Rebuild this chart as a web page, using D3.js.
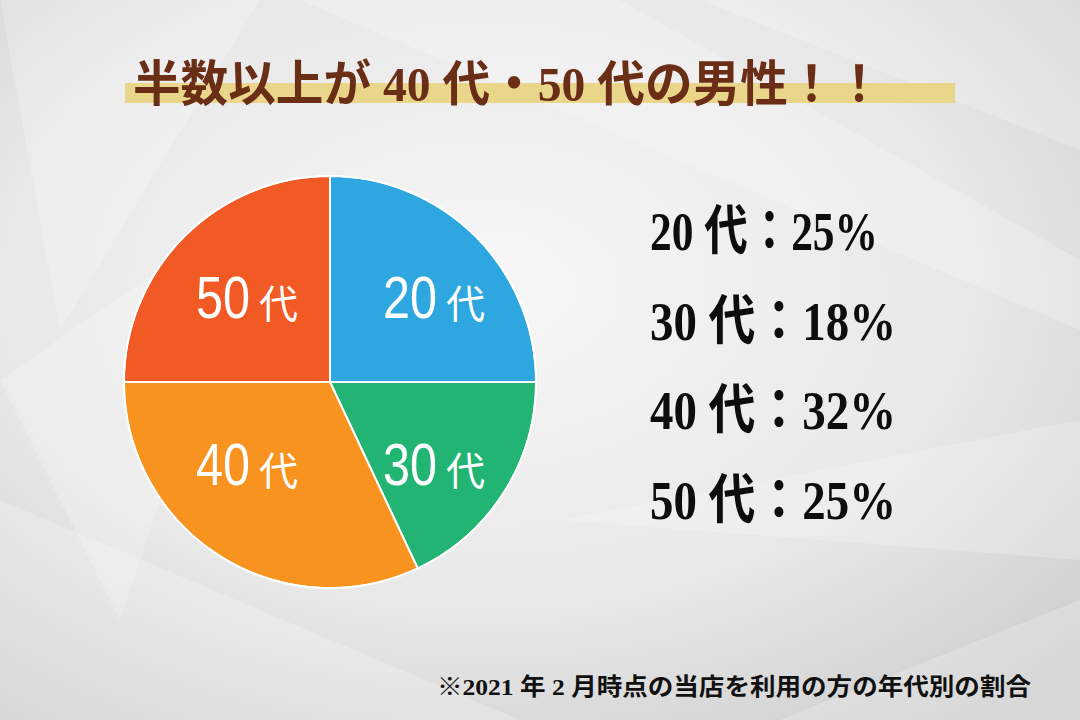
<!DOCTYPE html>
<html><head><meta charset="utf-8">
<script src="https://cdn.jsdelivr.net/npm/d3@7"></script>
<style>html,body{margin:0;padding:0;}svg{display:block;}</style>
</head><body>
<svg id="c" width="1080" height="720"></svg>
<script>
const categories = ["20代","30代","40代","50代"];
const values = [25, 18, 32, 25];
const colors = ["#2ea7e0","#22b473","#f7931e","#f15a24"];
const legendLabels = ["20 代：25%","30 代：18%","40 代：32%","50 代：25%"];
const titleText = "半数以上が 40 代・50 代の男性！！";
const noteText = "※2021 年 2 月時点の当店を利用の方の年代別の割合";

const svg = d3.select("#c");
const W = 1080, H = 720;
const defs = svg.append("defs");
const g1 = defs.append("radialGradient").attr("id","bg").attr("cx","45%").attr("cy","40%").attr("r","75%");
g1.append("stop").attr("offset","0%").attr("stop-color","#f7f7f7");
g1.append("stop").attr("offset","60%").attr("stop-color","#e8e8e8");
g1.append("stop").attr("offset","100%").attr("stop-color","#cdcdcd");
svg.append("rect").attr("width",W).attr("height",H).attr("fill","url(#bg)");

// decorative light facets
const facets = [
  [[0,0],[260,0],[60,330]],
  [[300,0],[620,0],[1080,260],[1080,330]],
  [[700,0],[1080,0],[1080,150]],
  [[0,500],[520,720],[0,720]],
  [[560,520],[1080,420],[1080,560]],
  [[780,720],[1080,600],[1080,720]],
  [[0,380],[260,200],[120,620]]
];
svg.append("g").selectAll("path").data(facets).join("path")
  .attr("d", d => d3.line()(d) + "Z")
  .attr("fill","#ffffff").attr("opacity",0.22);

// title highlight
svg.append("rect").attr("x",125).attr("y",83).attr("width",830).attr("height",20).attr("fill","#ead68a");
svg.append("text").attr("x",133).attr("y",101)
  .attr("font-family","'Liberation Serif','Noto Sans CJK JP',serif").attr("font-weight","bold")
  .attr("font-size",49).attr("fill","#6a2d16")
  .attr("textLength",750).attr("lengthAdjust","spacingAndGlyphs")
  .text(titleText);

// pie
const cx = 330, cy = 382, R = 206;
const pie = d3.pie().sort(null).value(d => d)(values);
const arc = d3.arc().innerRadius(0).outerRadius(R);
const pg = svg.append("g").attr("transform",`translate(${cx},${cy})`);
pg.selectAll("path").data(pie).join("path")
  .attr("d", arc).attr("fill",(d,i)=>colors[i])
  .attr("stroke","#ffffff").attr("stroke-width",2);
pg.append("circle").attr("r",R).attr("fill","none").attr("stroke","#ffffff").attr("stroke-width",1.5);

const lab = pg.selectAll("g.lab").data(pie).join("g").attr("class","lab")
  .attr("transform", d => {
    const a = (d.startAngle + d.endAngle)/2;
    const right = Math.sin(a) >= 0;
    const below = -Math.cos(a) >= 0;
    return `translate(${right ? 53 : -134},${below ? 103 : -64})`;
  })
  .attr("fill","#ffffff");
lab.append("text").attr("x",0).attr("font-size",60)
  .attr("font-family","'Liberation Sans','Arial',sans-serif")
  .attr("textLength",54).attr("lengthAdjust","spacingAndGlyphs")
  .text((d,i)=>categories[i].slice(0,2));
lab.append("text").attr("x",63).attr("font-size",39)
  .attr("font-family","'Noto Sans CJK JP',sans-serif").text((d,i)=>categories[i].slice(2));

// legend
svg.append("g").selectAll("text").data(legendLabels).join("text")
  .attr("x",650).attr("y",(d,i)=>250 + i*89.5)
  .attr("font-family","'Liberation Serif','Noto Sans CJK JP',serif").attr("font-weight","bold")
  .attr("font-size",54).attr("fill","#0d0d0d")
  .attr("textLength",(d,i)=> i===0 ? 228 : 246).attr("lengthAdjust","spacingAndGlyphs")
  .text(d=>d);

// footnote
svg.append("text").attr("x",437).attr("y",695)
  .attr("font-family","'Liberation Serif','Noto Sans CJK JP',serif").attr("font-weight","bold")
  .attr("font-size",24).attr("fill","#111")
  .attr("textLength",594).attr("lengthAdjust","spacingAndGlyphs")
  .text(noteText);
</script>
</body></html>
